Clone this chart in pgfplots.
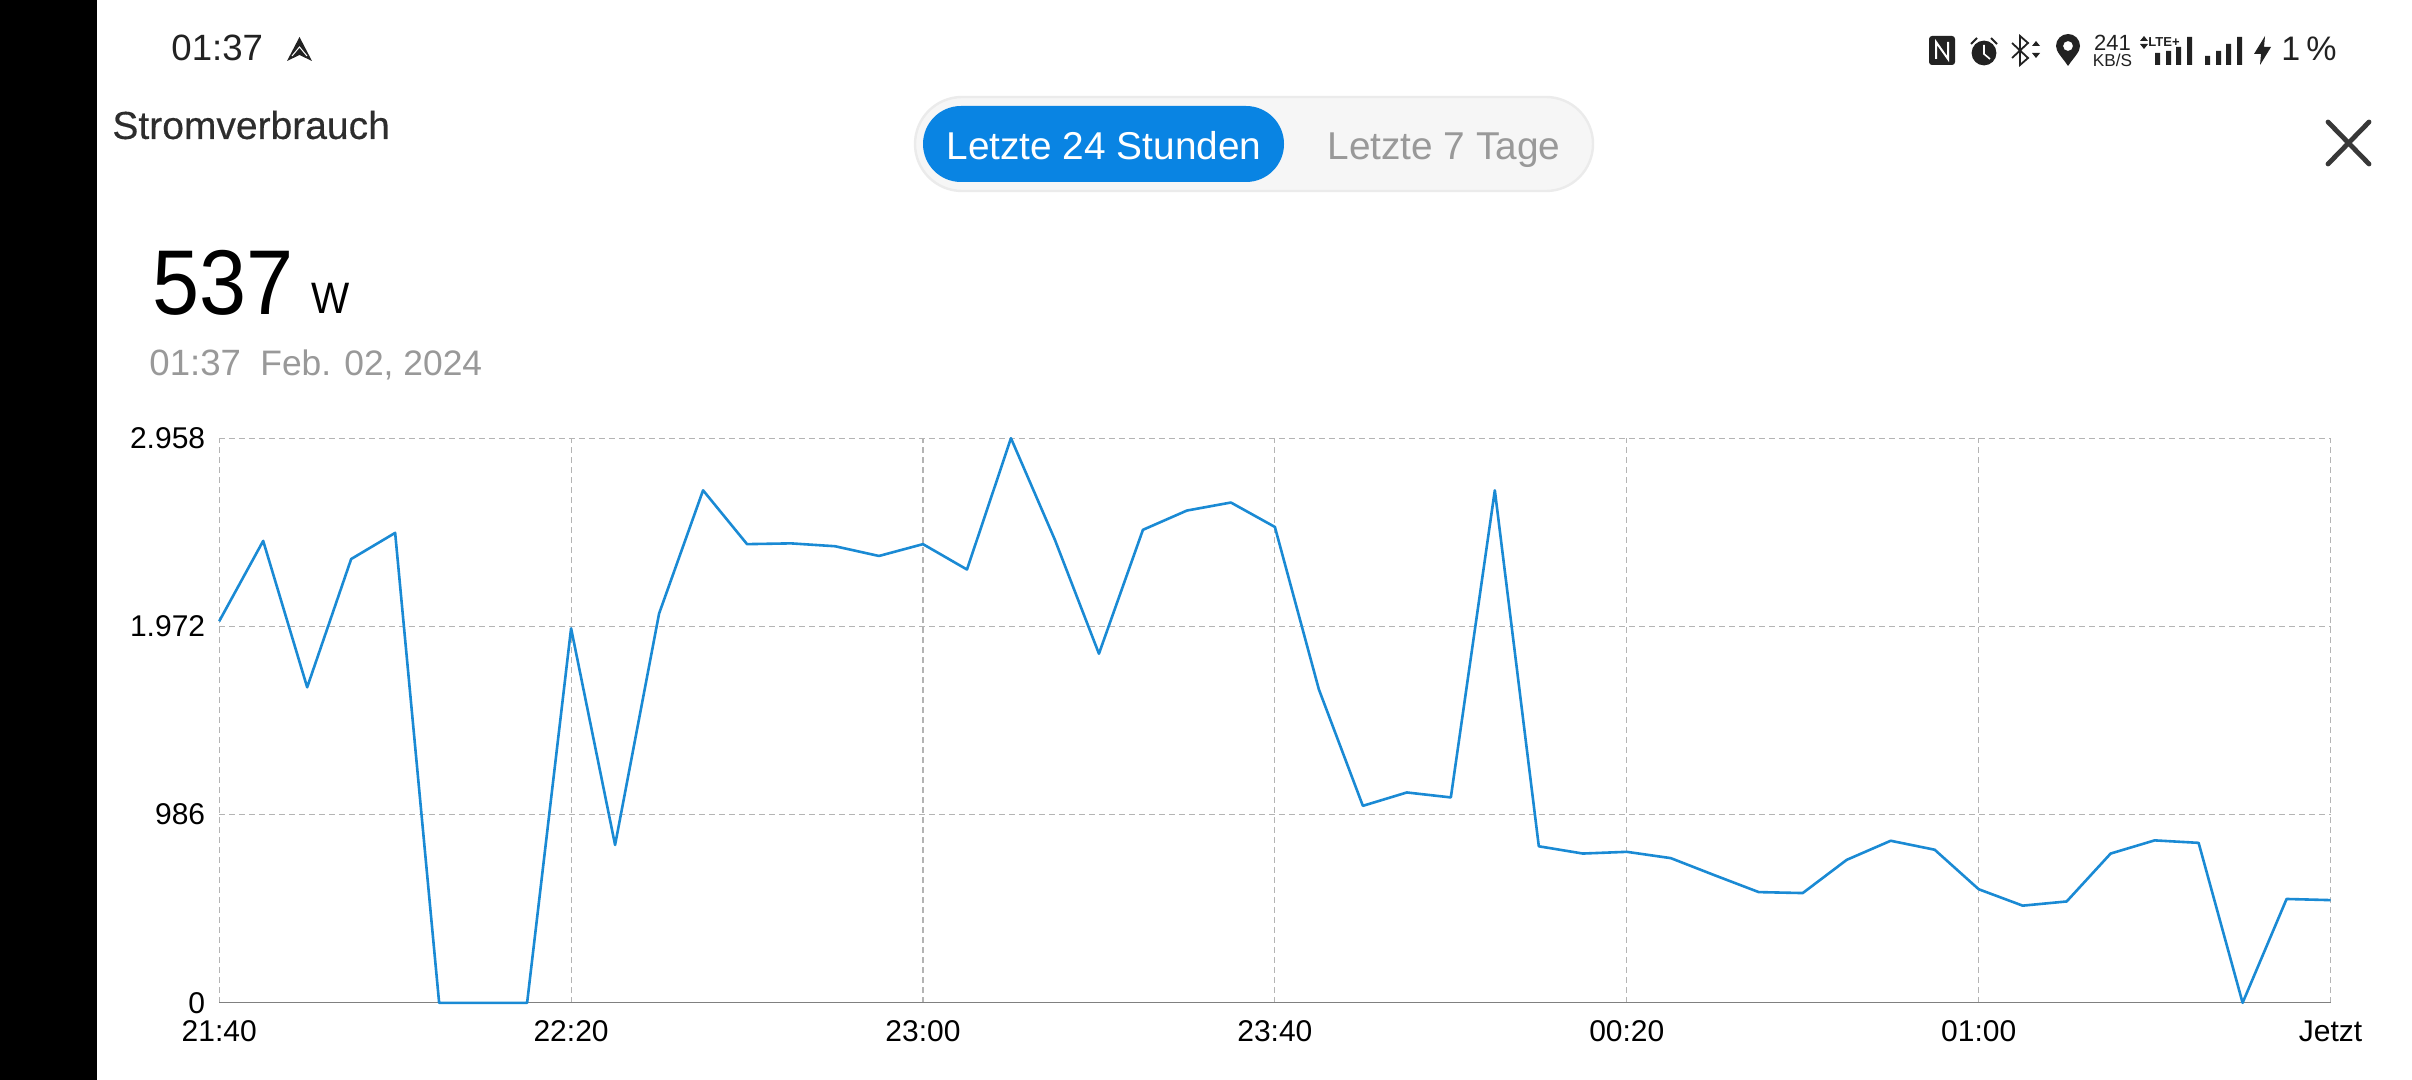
\documentclass[border=0pt]{standalone}
\usepackage{pgfplots}
\pgfplotsset{compat=1.18}
\usepackage{fontspec}
\setmainfont{Liberation Sans}
\newfontfamily\narrowf[FakeStretch=0.92]{Liberation Sans}
\newfontfamily\medf[FakeBold=0.35]{Liberation Sans}
\definecolor{linec}{HTML}{1A8AD4}
\definecolor{pillb}{HTML}{0984E3}
\definecolor{greyt}{HTML}{999999}
\definecolor{gridc}{HTML}{B4B4B4}
\definecolor{dark}{HTML}{222222}
\newcommand{\fs}[1]{\fontsize{#1}{#1}\selectfont}
\begin{document}
\begin{tikzpicture}
\path[use as bounding box,fill=white] (0,0) rectangle (1206pt,-540pt);
\fill[black] (0,0) rectangle (48.25pt,-540pt);
\begin{scope}[x=0.5pt,y=-0.5pt]
% status bar left
\node[anchor=west,inner sep=0,text=dark] at (171,48) {\fs{18.3}01:37};
\fill[dark] (299.5,37) -- (312,61) -- (299.5,55) -- (287,61) -- cycle;
\draw[white,line width=0.5pt] (292,56) -- (299.5,47) -- (307,56);
% title
\node[anchor=west,inner sep=0,text=dark!95] at (112,125) {\medf\fs{19.5}Stromverbrauch};
% value
\node[anchor=base west,inner sep=0,text=black] at (152,315) {\narrowf\fs{46}537};
\node[anchor=base west,inner sep=0,text=black] at (311,314) {\narrowf\fs{22}W};
\node[anchor=base west,inner sep=0,text=greyt] at (149,375) {\fs{18.3}01:37};
\node[anchor=base west,inner sep=0,text=greyt] at (260,375) {\fs{17.7}Feb. 02, 2024};
% pill
\draw[draw=black!8,fill=black!3.5,line width=1.2pt,rounded corners=23.5pt] (915,97) rectangle (1593,191);
\fill[pillb,rounded corners=19pt] (923,106) rectangle (1284,182);
\node[anchor=base,text=white,inner sep=0] at (1104,160) {\fs{19.4}Letzte 24 Stunden};
\node[anchor=base,text=greyt,inner sep=0] at (1444,160) {\fs{19.4}Letzte 7 Tage};
% close
\draw[dark!90,line width=2.4pt,line cap=round] (2328,122) -- (2369,164) (2369,122) -- (2328,164);
% NFC
\fill[dark,rounded corners=1.5pt] (1929,36) rectangle (1955,65);
\draw[white,line width=1pt] (1936,59) -- (1936,42) -- (1948,59) -- (1948,42);
% alarm
\fill[dark] (1984,53) circle (6.2pt);
\draw[white,line width=0.8pt] (1984,45) -- (1984,54) -- (1990,59);
\draw[dark,line width=1pt] (1971,44) -- (1977,38) (1991,38) -- (1997,44);
% bluetooth
\draw[dark,line width=0.9pt] (2012,43) -- (2028,58) -- (2020,65) -- (2020,36) -- (2028,43) -- (2012,58);
\fill[dark] (2032,46) -- (2040,46) -- (2036,41) -- cycle (2032,53) -- (2040,53) -- (2036,58) -- cycle;
% pin
\fill[dark,even odd rule] (2068,66) .. controls (2062,57) and (2056,52) .. (2056,46) arc[start angle=180,end angle=0,radius=6pt] .. controls (2080,52) and (2074,57) .. (2068,66) -- cycle (2068,46) circle (2.5pt);
% speed
\node[inner sep=0,text=dark] at (2112.5,43) {\fs{11}241};
\node[inner sep=0,text=dark] at (2112.5,60) {\fs{8.6}KB/S};
\node[inner sep=0,text=dark] at (2164,42) {\fs{6.5}\bfseries LTE+};
\fill[dark] (2140,41) -- (2148,41) -- (2144,36) -- cycle (2140,44) -- (2148,44) -- (2144,49) -- cycle;
% signal 1
\fill[dark] (2155,53) rectangle (2160,65) (2166,51) rectangle (2171,65) (2176,47) rectangle (2181,65) (2187,37) rectangle (2192,65);
% signal 2
\fill[dark] (2205,56) rectangle (2210,65) (2216,51) rectangle (2221,65) (2226,44) rectangle (2231,65) (2237,37) rectangle (2242,65);
% bolt
\fill[dark] (2265,36) -- (2254,54) -- (2261,54) -- (2260,65) -- (2271,47) -- (2264,47) -- cycle;
\node[anchor=west,inner sep=0,text=dark] at (2281,49) {\fs{17}1\hspace{3pt}\%};
\end{scope}
\begin{axis}[
  at={(109.6pt,-501.4pt)},anchor=south west,
  scale only axis,width=1055.7pt,height=282.3pt,
  xmin=0,xmax=240,ymin=0,ymax=2958,
  xtick={0,40,80,120,160,200,240},
  xticklabels={21:40,22:20,23:00,23:40,00:20,01:00,Jetzt},
  ytick={0,986,1972,2958},
  yticklabels={0,986,1.972,2.958},
  axis x line=bottom,axis y line=left,
  x axis line style={-,draw=black!50,line width=0.5pt},
  y axis line style={draw=none},
  major tick length=0pt,
  grid=major,
  grid style={dash pattern=on 3pt off 2pt,draw=gridc,line width=0.6pt},
  tick label style={font=\fs{15},text=black},
  xticklabel style={yshift=-5.5pt},
  yticklabel style={xshift=-3.5pt},
  clip=false,
]
\addplot[linec,line width=1.3pt,line join=round] coordinates {
(0,1999)(5,2420)(10,1653)(15,2325)(20,2462)(25,0)(30,0)(35,0)(40,1962)(45,827)
(50,2039)(55,2685)(60,2403)(65,2407)(70,2392)(75,2341)(80,2403)(85,2270)(90,2958)(95,2425)
(100,1829)(105,2478)(110,2579)(115,2621)(120,2493)(125,1642)(130,1032)(135,1102)(140,1076)(145,2685)
(150,820)(155,782)(160,791)(165,758)(170,668)(175,580)(180,575)(185,749)(190,849)(195,802)
(200,595)(205,509)(210,531)(215,782)(220,851)(225,838)(230,0)(235,544)(240,538)};
\end{axis}
\end{tikzpicture}
\end{document}
